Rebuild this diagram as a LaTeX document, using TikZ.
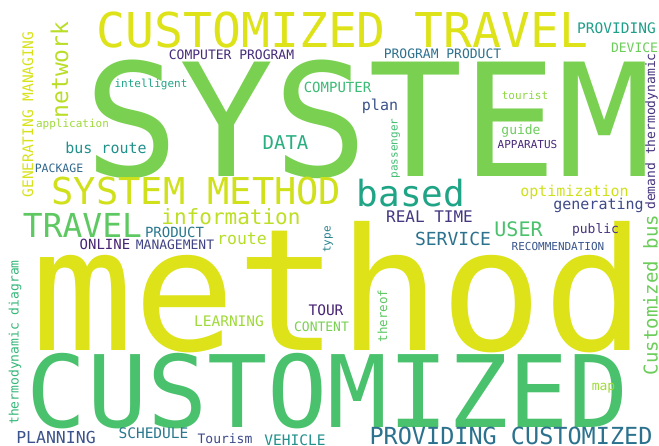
\documentclass[tikz,border=0pt]{standalone}
\usepackage{fontspec}
\newfontfamily\wcf{DejaVu Sans Mono}
\def\defhex#1{\definecolor{c#1}{HTML}{#1}}
\defhex{482475}\defhex{482878}\defhex{472D7B}\defhex{46337E}\defhex{453781}
\defhex{414487}\defhex{3E4A89}\defhex{3B528B}\defhex{39568C}\defhex{31688E}
\defhex{2D718E}\defhex{2C728E}\defhex{2A788E}\defhex{26828E}\defhex{21918C}
\defhex{1F9E89}\defhex{20A486}\defhex{29AF7F}\defhex{35B779}\defhex{3BBB75}
\defhex{42BE71}\defhex{4AC16D}\defhex{5EC962}\defhex{6CCD5A}\defhex{7AD151}
\defhex{8FD744}\defhex{9FDA3A}\defhex{B5DE2B}\defhex{BADE28}\defhex{BDDF26}
\defhex{D0E11C}\defhex{D8E219}\defhex{DDE318}
\tikzset{
  wc/.style 2 args={inner sep=0pt, outer sep=0pt, anchor=base,
    font=\wcf\fontsize{#1bp}{#1bp}\selectfont, text=c#2},
  up/.style={rotate=90},
  nd/.style={text depth=0pt}
}
\begin{document}
\begin{tikzpicture}[x=1bp,y=-1bp]
\fill[white] (0,0) rectangle (659,446);
\useasboundingbox (0,0) rectangle (659,446);
% large words
\node[wc={157}{7AD151}, nd] (system) at (368.5,177) {SYSTEM};
\node[wc={170}{DDE318}, nd] (method) at (338.5,350) {method};
\node[wc={100}{4AC16D}, nd] (customized) at (328,427) {CUSTOMIZED};
\node[wc={48}{DDE318}, nd] (custtravel) at (342.5,48) {CUSTOMIZED TRAVEL};
\node[wc={37}{D0E11C}, nd] (sysmeth) at (196.5,205) {SYSTEM METHOD};
\node[wc={36}{20A486}, nd] (based) at (411,207) {based};
\node[wc={33}{5EC962}, nd] (travel) at (82.5,238) {TRAVEL};
\node[wc={21}{BDDF26}, nd] (information) at (231,225) {information};
\node[wc={23.5}{2C728E}, nd] (provcust) at (511,444) {PROVIDING CUSTOMIZED};
% top band
\node[wc={13}{472D7B}, nd] (compprog) at (231.5,60) {COMPUTER PROGRAM};
\node[wc={13}{2D718E}, nd] (progprod) at (442.5,59) {PROGRAM PRODUCT};
\node[wc={14.5}{1F9E89}, nd] (providing) at (616.5,34) {PROVIDING};
\node[wc={13}{6CCD5A}, nd] (device) at (634.5,53) {DEVICE};
\node[wc={11}{20A486}] (intelligent) at (151,88) {intelligent};
\node[wc={14}{3BBB75}, nd] (computer) at (337.5,93) {COMPUTER};
\node[wc={15}{3B528B}] (plan) at (380,110.5) {plan};
\node[wc={11}{8FD744}, nd] (tourist) at (525,100) {tourist};
\node[wc={11}{9FDA3A}] (application) at (72.5,127.5) {application};
\node[wc={15}{21918C}, nd] (busroute) at (106,154) {bus route};
\node[wc={19}{29AF7F}, nd] (data) at (285.5,150) {DATA};
\node[wc={11.5}{31688E}, nd] (package) at (59,173) {PACKAGE};
\node[wc={13}{6CCD5A}] (guide) at (521,135) {guide};
\node[wc={11}{482878}, nd] (apparatus) at (527.5,149) {APPARATUS};
\node[wc={15}{D0E11C}] (optimization) at (574.5,196.5) {optimization};
\node[wc={15}{3E4A89}] (generating) at (598.5,209.5) {generating};
% middle band
\node[wc={16}{453781}, nd] (realtime) at (429.5,223) {REAL TIME};
\node[wc={20}{4AC16D}, nd] (user) at (518.5,237) {USER};
\node[wc={13}{46337E}] (public) at (595.5,234) {public};
\node[wc={18}{2C728E}, nd] (service) at (453,246) {SERVICE};
\node[wc={11}{39568C}, nd] (recommendation) at (558,251) {RECOMMENDATION};
\node[wc={16.5}{B5DE2B}, nd] (route) at (242,245) {route};
\node[wc={14}{2A788E}, nd] (product) at (174.5,238) {PRODUCT};
\node[wc={14}{482475}, nd] (online) at (105,250) {ONLINE};
\node[wc={13}{414487}, nd] (management) at (175,250) {MANAGEMENT};
\node[wc={14.5}{482475}, nd] (tour) at (326,316) {TOUR};
\node[wc={13}{7AD151}, nd] (content) at (321.5,331) {CONTENT};
\node[wc={14.5}{9FDA3A}, nd] (learning) at (229,327) {LEARNING};
\node[wc={13}{9FDA3A}] (map) at (603.5,390) {map};
% bottom band
\node[wc={16.5}{3B528B}, nd] (planning) at (56,443) {PLANNING};
\node[wc={14.5}{2A788E}, nd] (schedule) at (153.5,438) {SCHEDULE};
\node[wc={13}{3E4A89}, nd] (tourism) at (225,443) {Tourism};
\node[wc={14.5}{21918C}, nd] (vehicle) at (295,445.5) {VEHICLE};
% vertical words
\node[wc={23}{BADE28}, up, nd] (network) at (68,70) {network};
\node[wc={14.5}{D8E219}, up, nd] (genman) at (33,114.5) {GENERATING MANAGING};
\node[wc={13}{46337E}, up] (demand) at (655,131.5) {demand thermodynamic};
\node[wc={11}{42BE71}, up] (passenger) at (397.5,148.5) {passenger};
\node[wc={12.5}{5EC962}, up, nd] (thereof) at (387,316) {thereof};
\node[wc={11}{26828E}, up] (type) at (330.5,239.5) {type};
\node[wc={13}{35B779}, up] (thermdiag) at (18.5,342.5) {thermodynamic diagram};
\node[wc={19}{6CCD5A}, up, nd] (custbus) at (657.5,295) {Customized bus};
\end{tikzpicture}
\end{document}
